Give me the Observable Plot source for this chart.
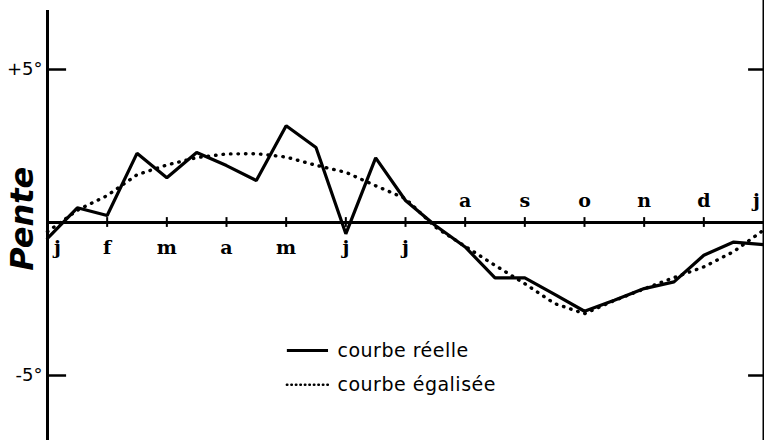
<!DOCTYPE html>
<html><head><meta charset="utf-8">
<script src="https://cdn.jsdelivr.net/npm/d3@7"></script>
<script src="https://cdn.jsdelivr.net/npm/@observablehq/plot@0.6"></script>
<style>
body{margin:0;background:#fff}
.lg text{letter-spacing:0.5px}
</style>
</head><body><div id="chart"></div>
<script>
// Time in months (0 = début janvier, 12 = janvier suivant), pas d'un demi-mois
const times = [0,0.5,1,1.5,2,2.5,3,3.5,4,4.5,5,5.5,6,6.5,7,7.5,8,8.5,9,9.5,10,10.5,11,11.5,12];
const courbeReelle = [-0.52,0.48,0.23,2.26,1.46,2.29,1.86,1.37,3.16,2.45,-0.37,2.11,0.72,-0.1,-0.8,-1.81,-1.81,-2.35,-2.9,-2.54,-2.16,-1.94,-1.07,-0.64,-0.72];
const courbeEgalisee = [-0.3,0.4,0.88,1.56,1.88,2.12,2.24,2.25,2.14,1.87,1.64,1.2,0.78,-0.15,-0.78,-1.4,-2.0,-2.65,-2.98,-2.55,-2.17,-1.8,-1.45,-0.95,-0.25];
const monthIndex = [0,1,2,3,4,5,6,7,8,9,10,11,12];
const monthLabels = ["j","f","m","a","m","j","j","a","s","o","n","d","j"];
const yTicks = [5,-5];
const yTickLabels = ["+5°","-5°"];
const legendLabels = ["courbe réelle","courbe égalisée"];
const yAxisLabel = "Pente";

const real = times.map((t,i)=>({t, v:courbeReelle[i]}));
const smooth = times.map((t,i)=>({t, v:courbeEgalisee[i]}));
const months = monthIndex.map((m,i)=>({m, label:monthLabels[i]}));
const ticks = yTicks.map((v,i)=>({v, label:yTickLabels[i]}));
const legend = legendLabels.map((label,i)=>({label, v: i===0 ? -4.18 : -5.3, dash: i===1}));

const dotted = {strokeDasharray:"0.5 7", strokeLinecap:"round"};
const labelFont = {fontSize:19, fontWeight:"bold", fontFamily:"DejaVu Serif"};

const chart = Plot.plot({
  width:764, height:440,
  marginTop:0, marginBottom:0, marginLeft:0, marginRight:0,
  x:{domain:[0,12], range:[47,763], axis:null},
  y:{domain:[-7.124,7.255], range:[440,0], axis:null},
  style:{background:"#fff", color:"#000"},
  marks:[
    Plot.ruleY([0], {x1:0, x2:12, stroke:"#000", strokeWidth:3}),
    Plot.ruleX([0], {y1:6.93, y2:-7.124, stroke:"#000", strokeWidth:3}),
    Plot.ruleX([12], {y1:7.255, y2:-7.124, stroke:"#000", strokeWidth:2}),
    Plot.ruleY(ticks, {y:"v", x1:0, x2:0.32, stroke:"#000", strokeWidth:2.5}),
    Plot.ruleY(ticks, {y:"v", x1:11.75, x2:12, stroke:"#000", strokeWidth:2.5}),
    Plot.ruleX(months.filter(d=>d.m>0 && d.m<12), {x:"m", y1:-0.16, y2:0.16, stroke:"#000", strokeWidth:2}),
    // months Jan–Jul below the line
    Plot.text(months.filter(d=>d.m===0), {x:"m", y:0, text:"label", dy:25, dx:10, ...labelFont}),
    Plot.text(months.filter(d=>d.m>0 && d.m<=6), {x:"m", y:0, text:"label", dy:25, ...labelFont}),
    // months Aug–Jan above the line
    Plot.text(months.filter(d=>d.m>6 && d.m<12), {x:"m", y:0, text:"label", dy:-22, ...labelFont}),
    Plot.text(months.filter(d=>d.m===12), {x:"m", y:0, text:"label", dy:-22, dx:-7, ...labelFont}),
    Plot.line(smooth, {x:"t", y:"v", stroke:"#000", strokeWidth:3.4, ...dotted}),
    Plot.line(real, {x:"t", y:"v", stroke:"#000", strokeWidth:3.2, strokeLinejoin:"miter"}),
    Plot.text(ticks, {x:0, y:"v", text:"label", dx:-5, textAnchor:"end", fontSize:18, fontFamily:"DejaVu Sans"}),
    Plot.text([yAxisLabel], {x:-0.42, y:0.12, text:d=>d, rotate:-90, fontSize:32,
      fontStyle:"italic", fontWeight:"bold", fontFamily:"DejaVu Sans"}),
    Plot.ruleY(legend.filter(d=>!d.dash), {y:"v", x1:4.02, x2:4.71, stroke:"#000", strokeWidth:3}),
    Plot.ruleY(legend.filter(d=>d.dash), {y:"v", x1:4.02, x2:4.71, stroke:"#000", strokeWidth:2.5, strokeDasharray:"0.5 4", strokeLinecap:"round"}),
    Plot.text(legend, {x:4.86, y:"v", text:"label", textAnchor:"start", fontSize:19,
      fontFamily:"DejaVu Sans", className:"lg"})
  ]
});
document.getElementById("chart").append(chart);
</script>
</body></html>
